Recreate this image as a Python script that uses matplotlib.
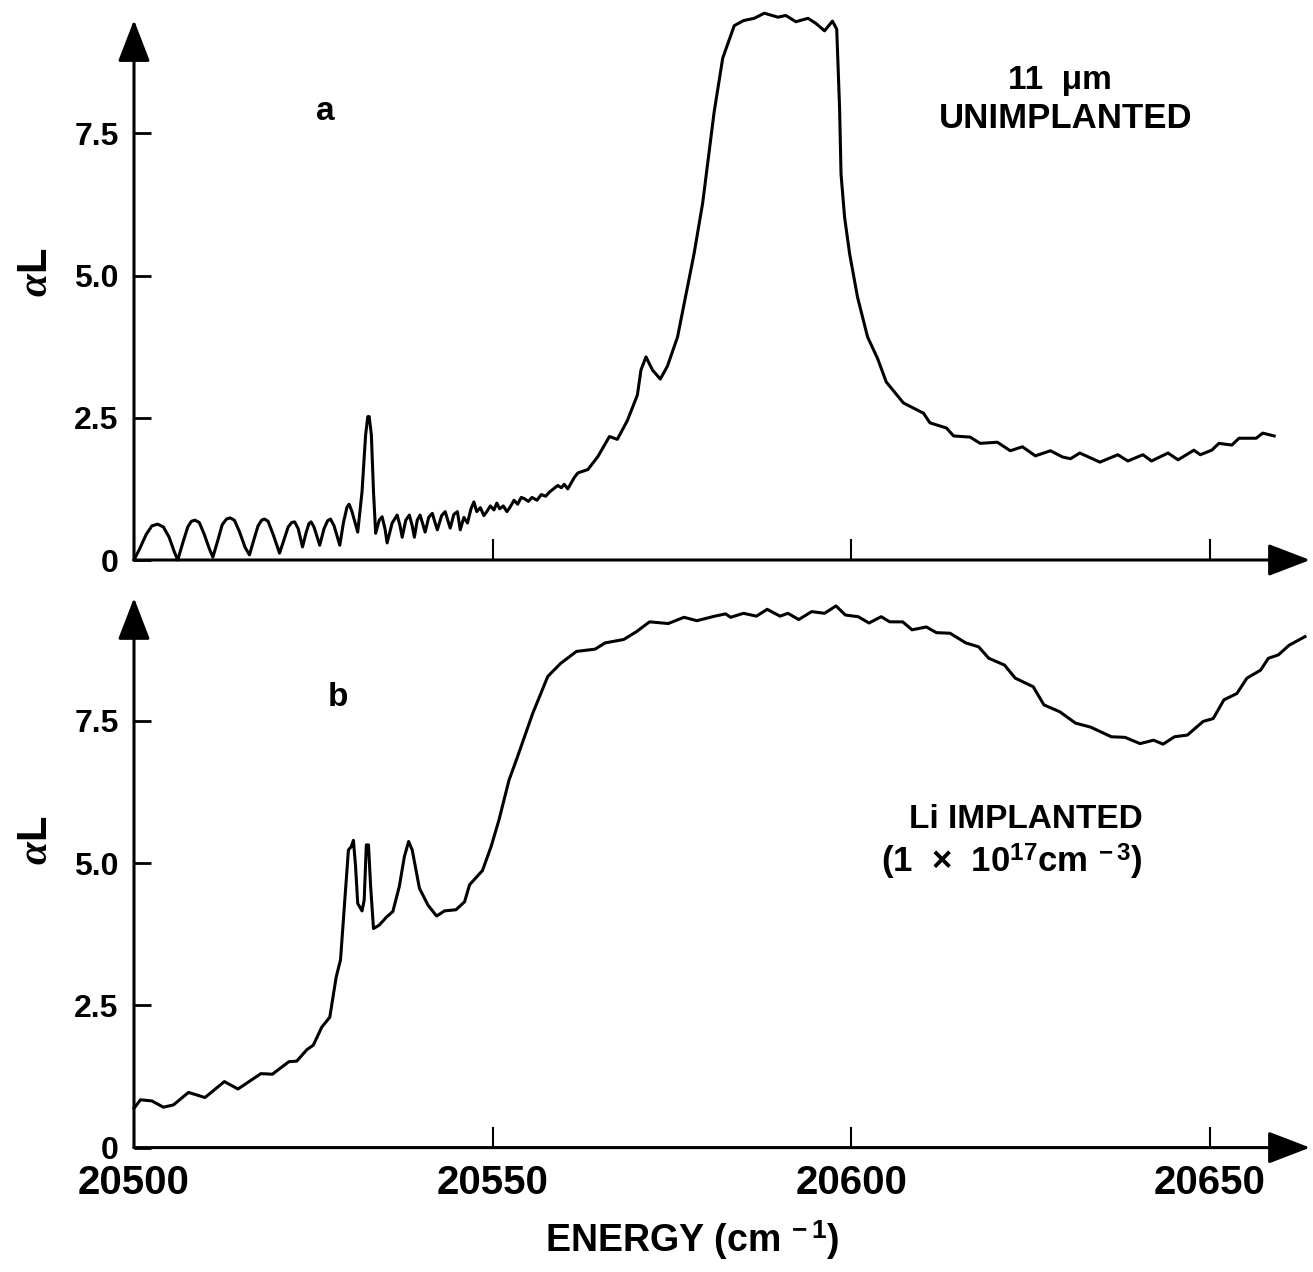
import matplotlib
matplotlib.use("Agg")
import matplotlib.pyplot as plt

plt.rcParams['font.family'] = ['Liberation Sans', 'DejaVu Sans']
plt.rcParams['font.weight'] = 'bold'
plt.rcParams['mathtext.fontset'] = 'custom'
plt.rcParams['mathtext.rm'] = 'Liberation Sans:bold'
plt.rcParams['mathtext.bf'] = 'Liberation Sans:bold'
plt.rcParams['mathtext.it'] = 'Liberation Serif:italic'

# panel a: 11 um, unimplanted
energy_a = [20500.0, 20500.8, 20501.7, 20502.5, 20503.3, 20504.1, 20504.9, 20505.6, 20506.1,
            20506.8, 20507.5, 20508.0, 20508.5, 20509.1, 20509.8, 20510.5, 20511.0,
            20511.7, 20512.3, 20512.9, 20513.4, 20514.0, 20514.7, 20515.5, 20516.1,
            20516.7, 20517.3, 20517.8, 20518.2, 20518.7, 20519.4, 20520.3,
            20520.9, 20521.5, 20522.0, 20522.4, 20522.9, 20523.5,
            20524.0, 20524.4, 20524.7, 20525.1, 20525.9,
            20526.5, 20527.0, 20527.4, 20527.9, 20528.7,
            20529.2, 20529.7, 20530.0, 20530.4, 20531.2,
            20531.8, 20532.3, 20532.6, 20532.8, 20533.1, 20533.4, 20533.7,
            20534.2, 20534.6, 20535.0, 20535.3,
            20536.0, 20536.7, 20537.1, 20537.4,
            20537.9, 20538.4, 20538.8, 20539.1,
            20539.5, 20539.9, 20540.3, 20540.6,
            20541.1, 20541.6, 20542.0, 20542.3,
            20542.9, 20543.4, 20543.8, 20544.1,
            20544.6, 20545.1, 20545.5, 20546.0, 20546.5, 20547.0, 20547.4,
            20547.8, 20548.3, 20548.8, 20549.2, 20549.7, 20550.2, 20550.6,
            20551.0, 20551.5, 20552.0, 20552.4, 20553.0, 20553.5, 20554.0,
            20554.4, 20555.0, 20555.5, 20556.2, 20556.8, 20557.4, 20558.0,
            20558.5, 20559.1, 20559.6, 20560.0, 20560.5, 20560.9, 20561.4,
            20561.9, 20563.3, 20564.7, 20566.3, 20567.4, 20568.8, 20570.2,
            20570.7, 20571.4, 20572.3, 20573.4, 20574.4, 20575.8, 20576.7,
            20578.1, 20579.3, 20580.2, 20580.9, 20582.1, 20583.7, 20585.0,
            20586.5, 20587.9, 20589.8, 20590.9, 20592.3, 20594.0, 20595.1,
            20596.3, 20597.4, 20598.0, 20598.4, 20598.6, 20599.1, 20599.8,
            20600.9, 20602.3, 20603.7, 20604.9, 20607.3, 20610.1, 20611.0,
            20613.3, 20614.3, 20616.6, 20618.0, 20620.4, 20622.2, 20623.9,
            20625.7, 20627.8, 20629.5, 20630.6, 20631.9, 20634.7, 20637.2,
            20638.6, 20640.7, 20641.9, 20644.2, 20645.6, 20647.8, 20648.7,
            20650.3, 20651.3, 20653.1, 20654.1, 20656.5, 20657.4, 20659.0]
alpha_a = [0.0, 0.2, 0.45, 0.6, 0.63, 0.58, 0.4, 0.15, 0.0,
           0.3, 0.58, 0.68, 0.70, 0.66, 0.45, 0.2, 0.05,
           0.35, 0.62, 0.72, 0.74, 0.70, 0.5, 0.22, 0.09,
           0.35, 0.6, 0.70, 0.72, 0.68, 0.45, 0.12,
           0.35, 0.58, 0.66, 0.67, 0.55, 0.23,
           0.48, 0.64, 0.67, 0.58, 0.26,
           0.55, 0.69, 0.72, 0.6, 0.26,
           0.65, 0.93, 0.98, 0.85, 0.49,
           1.2, 2.2, 2.52, 2.52, 2.2, 1.2, 0.47,
           0.7, 0.76, 0.55, 0.30,
           0.65, 0.79, 0.6, 0.40,
           0.7, 0.79, 0.6, 0.40,
           0.7, 0.79, 0.62, 0.49,
           0.75, 0.82, 0.65, 0.53,
           0.78, 0.85, 0.68, 0.56,
           0.8, 0.85, 0.53, 0.75, 0.65, 0.9, 1.02,
           0.85, 0.92, 0.78, 0.85, 0.95, 0.88, 1.0,
           0.9, 0.95, 0.85, 0.92, 1.05, 0.98, 1.1,
           1.08, 1.03, 1.1, 1.05, 1.15, 1.12, 1.2,
           1.25, 1.31, 1.27, 1.33, 1.25, 1.34, 1.45,
           1.53, 1.59, 1.82, 2.17, 2.12, 2.45, 2.9,
           3.34, 3.57, 3.34, 3.18, 3.41, 3.92, 4.49,
           5.38, 6.27, 7.17, 7.87, 8.82, 9.39, 9.48,
           9.52, 9.61, 9.54, 9.57, 9.46, 9.52, 9.43,
           9.30, 9.47, 9.33, 7.93, 6.78, 6.02, 5.38,
           4.62, 3.92, 3.54, 3.13, 2.76, 2.58, 2.41,
           2.32, 2.18, 2.16, 2.05, 2.07, 1.92, 1.99,
           1.83, 1.92, 1.81, 1.78, 1.88, 1.72, 1.85,
           1.74, 1.85, 1.74, 1.88, 1.76, 1.93, 1.85,
           1.93, 2.05, 2.02, 2.14, 2.14, 2.23, 2.18]

# panel b: Li implanted
energy_b = [20500.0, 20500.9, 20502.5, 20504.1, 20505.5, 20507.6, 20509.9,
            20512.6, 20514.5, 20517.7, 20519.3, 20521.6, 20522.7, 20524.1,
            20525.0, 20526.2, 20527.3, 20528.2, 20528.8, 20529.5, 20529.9,
            20530.3, 20530.6, 20530.9, 20531.2, 20531.8, 20532.1, 20532.4,
            20532.7, 20533.0, 20533.4, 20534.2, 20535.2, 20536.1, 20537.0,
            20537.7, 20538.3, 20538.8, 20539.8, 20541.0, 20542.2, 20543.3,
            20544.9, 20546.1, 20546.8, 20548.6, 20549.8, 20550.9, 20552.3,
            20553.4, 20555.6, 20557.7, 20559.5, 20561.7, 20564.3, 20565.7,
            20568.3, 20570.1, 20571.9, 20574.5, 20576.7, 20578.5, 20581.0,
            20582.5, 20583.2, 20585.0, 20586.8, 20588.3, 20590.1, 20591.2,
            20592.7, 20594.5, 20596.3, 20597.9, 20599.2, 20601.0, 20602.5,
            20604.2, 20605.4, 20607.2, 20608.5, 20610.5, 20611.9, 20613.8,
            20616.0, 20617.8, 20619.2, 20621.4, 20622.9, 20625.4, 20626.9,
            20629.1, 20631.3, 20633.4, 20636.3, 20638.2, 20640.3, 20642.2,
            20643.5, 20645.1, 20646.9, 20649.1, 20650.5, 20652.0, 20653.8,
            20655.2, 20657.1, 20658.2, 20659.6, 20661.1, 20663.3]
alpha_b = [0.69, 0.84, 0.82, 0.71, 0.75, 0.97, 0.88,
           1.16, 1.03, 1.30, 1.29, 1.51, 1.52, 1.72,
           1.80, 2.12, 2.29, 3.00, 3.30, 4.53, 5.23,
           5.29, 5.40, 4.94, 4.29, 4.16, 4.35, 5.32,
           5.32, 4.59, 3.85, 3.91, 4.05, 4.15, 4.59,
           5.11, 5.38, 5.23, 4.56, 4.26, 4.07, 4.16,
           4.18, 4.32, 4.62, 4.87, 5.29, 5.76, 6.46,
           6.84, 7.63, 8.28, 8.51, 8.72, 8.76, 8.87,
           8.93, 9.07, 9.24, 9.21, 9.32, 9.26, 9.34,
           9.38, 9.32, 9.39, 9.34, 9.46, 9.34, 9.39,
           9.28, 9.42, 9.39, 9.52, 9.36, 9.33, 9.22,
           9.33, 9.24, 9.24, 9.10, 9.15, 9.05, 9.04,
           8.87, 8.80, 8.60, 8.48, 8.25, 8.10, 7.78,
           7.66, 7.46, 7.39, 7.22, 7.21, 7.10, 7.16,
           7.09, 7.22, 7.25, 7.49, 7.54, 7.87, 7.98,
           8.25, 8.39, 8.60, 8.66, 8.83, 8.98]

y_ticks = [0, 2.5, 5.0, 7.5]
y_ticklabels = ['0', '2.5', '5.0', '7.5']
x_ticks = [20500, 20550, 20600, 20650]
x_ticklabels = ['20500', '20550', '20600', '20650']

W, H = 1313, 1272
fig = plt.figure(figsize=(W / 100, H / 100), dpi=100)

x_min, x_max = 20500, 20664
ax_left, ax_w = 134 / W, (1310 - 134) / W
ax_h = 9.75 * 56.9 / H
ax_a = fig.add_axes([ax_left, (H - 560) / H, ax_w, ax_h])
ax_b = fig.add_axes([ax_left, (H - 1147.6) / H, ax_w, ax_h])


def style_axes(ax, y_top, show_xlabels):
    ax.set_xlim(x_min, x_max)
    ax.set_ylim(0, 9.75)
    for s in ax.spines.values():
        s.set_visible(False)
    ax.patch.set_alpha(0)
    arrow = dict(arrowstyle='-|>,head_length=1.3,head_width=0.5',
                 lw=2.2, color='k', shrinkA=0, shrinkB=0, mutation_scale=20)
    ax.annotate('', xy=(x_max, 0), xytext=(x_min, 0), arrowprops=arrow,
                annotation_clip=False)
    ax.annotate('', xy=(x_min, y_top), xytext=(x_min, 0), arrowprops=arrow,
                annotation_clip=False)
    ax.set_yticks(y_ticks)
    ax.set_yticklabels(y_ticklabels)
    ax.tick_params(axis='y', direction='in', length=12, width=2,
                   labelsize=23, pad=11)
    ax.set_xticks(x_ticks)
    if show_xlabels:
        ax.set_xticklabels(x_ticklabels)
    else:
        ax.set_xticklabels([])
    ax.tick_params(axis='x', direction='in', length=15, width=1.5,
                   labelsize=29, pad=12)
    for lab in ax.get_xticklabels() + ax.get_yticklabels():
        lab.set_fontweight('bold')


ax_a.plot(energy_a, alpha_a, color='k', lw=2.2, clip_on=False)
style_axes(ax_a, 9.49, False)

ax_b.plot(energy_b, alpha_b, color='k', lw=2.2, clip_on=False)
style_axes(ax_b, 9.66, True)


def ftext(x, y, s, **kw):
    fig.text(x / W, 1 - y / H, s, ha='center', va='center',
             fontweight='bold', **kw)


ftext(36, 272, r'$\alpha$L', fontsize=30, rotation=90)
ftext(36, 840, r'$\alpha$L', fontsize=30, rotation=90)
ftext(325, 112, 'a', fontsize=24)
ftext(338, 697, 'b', fontsize=24)
ftext(1060, 80, '11  μm', fontsize=24)
ftext(1066, 119, 'UNIMPLANTED', fontsize=25)
ftext(1026, 819, 'Li IMPLANTED', fontsize=24)
ftext(1012, 862, r'(1  ×  10$^{\mathrm{17}}$cm$^{\mathrm{\ -3}}$)', fontsize=25)
ftext(692, 1240, r'ENERGY (cm$^{\mathrm{\ -1}}$)', fontsize=27)

fig.savefig('out.png', dpi=100)
